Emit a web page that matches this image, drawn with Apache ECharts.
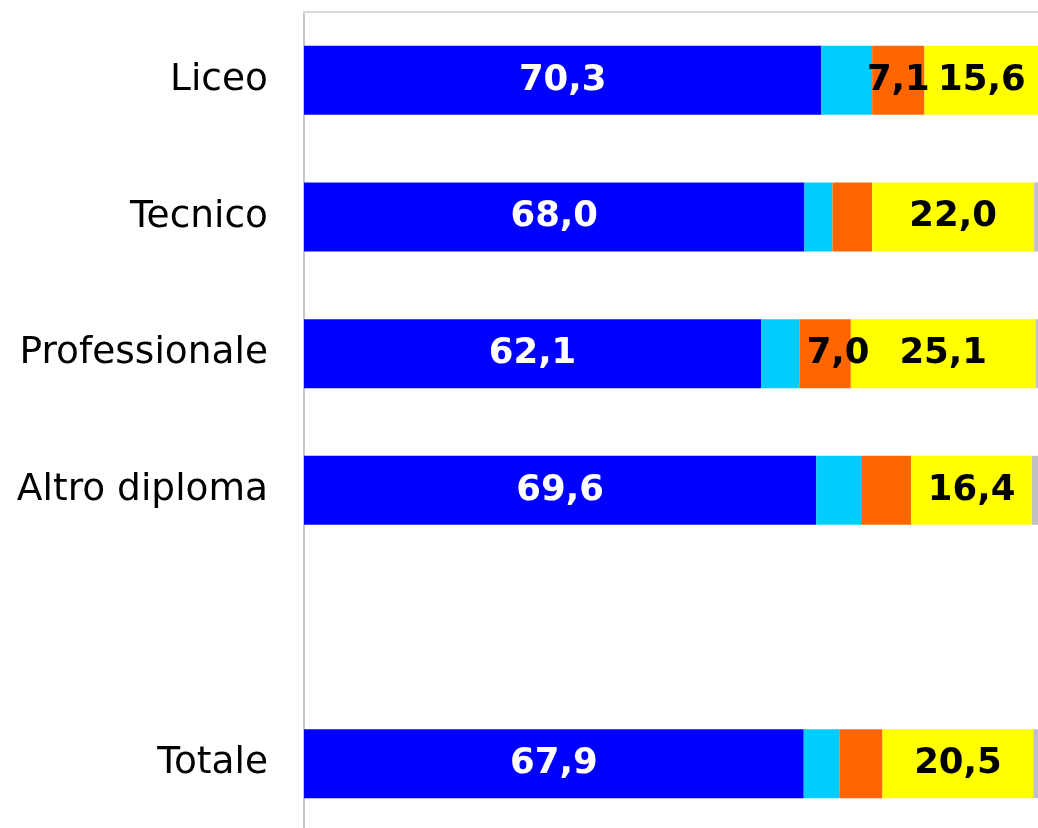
<!DOCTYPE html>
<html>
<head>
<meta charset="utf-8">
<script src="https://cdn.jsdelivr.net/npm/echarts@6/dist/echarts.min.js"></script>
<style>
  html, body { margin: 0; padding: 0; background: #ffffff; overflow: hidden; }
  /* il grafico prosegue oltre il bordo destro e inferiore della finestra */
  #chart { width: 1050px; height: 845px; }
</style>
</head>
<body>
<div id="chart"></div>
<script>
// Tipo di diploma (riga vuota prima del totale)
const categories = ['Liceo', 'Tecnico', 'Professionale', 'Altro diploma', '', 'Totale'];

// Quote percentuali per ciascuna componente
const blueValues   = [70.3, 68.0, 62.1, 69.6, null, 67.9];
const cyanValues   = [6.9, 3.8, 5.2, 6.1, null, 4.9];
const orangeValues = [7.1, 5.4, 7.0, 6.8, null, 5.8];
const yellowValues = [15.6, 22.0, 25.1, 16.4, null, 20.5];
const greyValues   = [0.1, 0.8, 0.6, 1.1, null, 0.9];

const seriesValues = [blueValues, cyanValues, orangeValues, yellowValues, greyValues];
const seriesColors = ['#0000FF', '#00CCFF', '#FF6600', '#FFFF00', '#C0C0C0'];
const labelColors  = ['#FFFFFF', '#000000', '#000000', '#000000', '#000000'];

// Etichette mostrate solo per le quote dal 7% in su
const LABEL_MIN = 7.0;

function fmt(v) {
  return v.toFixed(1).replace('.', ',');
}

const series = seriesValues.map(function (vals, si) {
  return {
    type: 'bar',
    stack: 'tot',
    barWidth: 69,
    itemStyle: { color: seriesColors[si] },
    label: {
      show: true,
      position: 'inside',
      color: labelColors[si],
      fontFamily: 'DejaVu Sans',
      fontWeight: 'bold',
      fontSize: 35.5,
      textBorderWidth: 0,
      formatter: function (p) {
        return (p.value != null && p.value >= LABEL_MIN) ? fmt(p.value) : '';
      }
    },
    data: vals.map(function (v, ci) {
      const item = { value: v == null ? '-' : v };
      // etichetta arancione di "Professionale" spostata leggermente a destra
      if (si === 2 && categories[ci] === 'Professionale') {
        item.label = { offset: [13, 0] };
      }
      return item;
    })
  };
});

const chart = echarts.init(document.getElementById('chart'), null, { renderer: 'canvas' });
chart.setOption({
  animation: false,
  backgroundColor: '#FFFFFF',
  grid: { left: 304, top: 12, width: 736, height: 820, containLabel: false },
  xAxis: {
    type: 'value',
    position: 'top',
    min: 0,
    max: 100,
    axisLine: { show: true, onZero: false, lineStyle: { color: '#D9D9D9', width: 2 } },
    axisTick: { show: false },
    axisLabel: { show: false },
    splitLine: { show: false }
  },
  yAxis: {
    type: 'category',
    inverse: true,
    data: categories,
    axisLine: { show: true, lineStyle: { color: '#C8C8C8', width: 2 } },
    axisTick: { show: false },
    axisLabel: {
      margin: 36,
      color: '#000000',
      fontFamily: 'DejaVu Sans',
      fontSize: 37.5
    }
  },
  series: series
});
</script>
</body>
</html>
